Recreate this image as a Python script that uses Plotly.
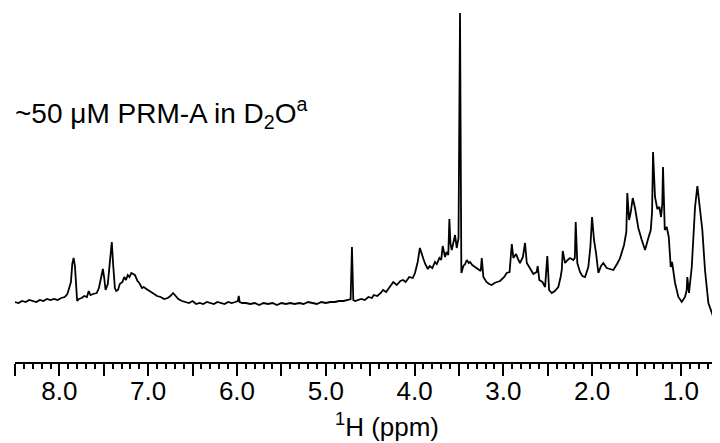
#!/usr/bin/env python3

import plotly.graph_objects as go

# chemical shift (ppm) and intensity (a.u., baseline = 0)
ppm = [
    8.50, 8.46, 8.42, 8.38, 8.34, 8.30, 8.26, 8.22, 8.18, 8.14, 8.10, 8.06, 8.02, 7.98, 7.94, 7.91,
    7.87, 7.855, 7.84, 7.825, 7.81, 7.80, 7.78, 7.75, 7.72, 7.69, 7.67, 7.65, 7.62, 7.58,
    7.555, 7.53, 7.51, 7.495, 7.48, 7.455, 7.43, 7.41, 7.395, 7.375, 7.36, 7.34, 7.32,
    7.29, 7.27, 7.25, 7.23, 7.21, 7.19, 7.17, 7.15, 7.12, 7.10, 7.07, 7.05, 7.02, 6.99, 6.95,
    6.90, 6.86, 6.82, 6.78, 6.75, 6.72, 6.69, 6.66, 6.62, 6.58, 6.54, 6.50, 6.46, 6.42, 6.38,
    6.34, 6.30, 6.26, 6.22, 6.18, 6.14, 6.10, 6.06, 6.02, 5.99, 5.98, 5.97, 5.94, 5.90, 5.85,
    5.80, 5.75, 5.70, 5.65, 5.60, 5.55, 5.50, 5.45, 5.40, 5.35, 5.30, 5.25, 5.20, 5.15, 5.10,
    5.05, 5.00, 4.95, 4.90, 4.85, 4.80, 4.75, 4.72, 4.705, 4.69, 4.67, 4.64, 4.60, 4.56, 4.52,
    4.48, 4.46, 4.42, 4.38, 4.355, 4.32, 4.28, 4.24, 4.20, 4.16, 4.13, 4.10, 4.06, 4.02, 3.995,
    3.965, 3.94, 3.92, 3.90, 3.88, 3.85, 3.83, 3.80, 3.77, 3.75, 3.72, 3.70, 3.683, 3.67, 3.657,
    3.64, 3.62, 3.608, 3.595, 3.581, 3.56, 3.544, 3.525, 3.505, 3.488, 3.473, 3.45, 3.43, 3.412,
    3.39, 3.375, 3.35, 3.319, 3.29, 3.255, 3.243, 3.225, 3.19, 3.16, 3.131, 3.10, 3.07, 3.037,
    2.99, 2.962, 2.93, 2.905, 2.887, 2.857, 2.83, 2.812, 2.78, 2.756, 2.736, 2.70, 2.662, 2.625,
    2.613, 2.595, 2.56, 2.53, 2.505, 2.485, 2.455, 2.42, 2.381, 2.355, 2.342, 2.331, 2.305,
    2.275, 2.249, 2.212, 2.195, 2.185, 2.167, 2.137, 2.11, 2.08, 2.043, 2.02, 2.001, 1.979,
    1.956, 1.93, 1.90, 1.874, 1.836, 1.80, 1.761, 1.72, 1.689, 1.641, 1.615, 1.604, 1.584,
    1.565, 1.543, 1.517, 1.48, 1.441, 1.404, 1.367, 1.34, 1.325, 1.314, 1.292, 1.266, 1.243,
    1.224, 1.21, 1.202, 1.182, 1.16, 1.137, 1.115, 1.10, 1.066, 1.029, 0.991, 0.954, 0.935,
    0.928, 0.909, 0.878, 0.841, 0.815, 0.785, 0.759, 0.729, 0.691, 0.635, 0.579, 0.56,
]
intensity = [
    0, -1, 1, 0, 2, 1, 0, 2, 1, 3, 2, 3, 2, 4, 5, 8,
    20, 38, 44, 36, 12, 1, 3, 4, 6, 5, 11, 7, 8, 9,
    14, 26, 33, 24, 12, 18, 40, 60, 38, 14, 11, 12, 18,
    20, 25, 22, 27, 25, 29, 28, 27, 21, 19, 14, 15, 13, 11, 9,
    6, 5, 3, 4, 6, 9, 6, 3, 1, 0, -1, 1, -2, -1, -2,
    0, -1, -2, 0, -1, -2, 0, -1, 0, 1, 6, 0, -1, -1, -2,
    -1, -3, -1, -2, -1, -3, -1, -2, -1, -2, -1, -2, 0, -1, -2,
    0, -1, 0, 0, 1, 1, 2, 3, 55, 2, 1, 2, 3, 2, 5,
    4, 7, 6, 9, 12, 10, 15, 20, 17, 21, 22, 20, 25, 24, 29,
    40, 54, 47, 43, 38, 33, 36, 34, 40, 38, 44, 42, 56, 48, 45,
    50, 47, 83, 58, 52, 62, 67, 54, 64, 289, 29, 36, 38, 42,
    39, 40, 37, 35, 33, 31, 44, 25, 20, 18, 17, 19, 20, 21,
    25, 29, 30, 58, 44, 48, 42, 39, 45, 59, 39, 34, 28, 30,
    36, 22, 20, 15, 46, 12, 9, 11, 15, 25, 32, 51, 39,
    42, 44, 42, 44, 80, 39, 30, 26, 25, 35, 55, 85, 62,
    49, 29, 36, 39, 34, 33, 32, 38, 43, 57, 70, 109, 82,
    90, 104, 94, 74, 62, 52, 64, 72, 90, 150, 105, 93, 95,
    85, 98, 135, 72, 75, 65, 35, 40, 19, 5, 0, 5, 12,
    25, 9, 35, 95, 116, 95, 72, 32, -1, -15, -19, -19,
]

x_ticks = [8.5, 8.0, 7.5, 7.0, 6.5, 6.0, 5.5, 5.0, 4.5, 4.0, 3.5, 3.0, 2.5, 2.0, 1.5, 1.0]
x_labels = ["", "8.0", "", "7.0", "", "6.0", "", "5.0", "", "4.0", "", "3.0", "", "2.0", "", "1.0"]

fig = go.Figure()
fig.add_trace(go.Scatter(x=ppm, y=intensity, mode="lines",
                         line=dict(color="black", width=1.8), showlegend=False))

font = "Arial, Liberation Sans, Helvetica, sans-serif"

# page body has an 8px margin, so the figure is a bit smaller than the window
fig.update_layout(
    width=712, height=435,
    margin=dict(l=7, r=0, t=2, b=81),
    plot_bgcolor="white", paper_bgcolor="white",
    font=dict(family=font, color="black", size=26),
)

fig.update_xaxes(
    range=[8.5, 0.56], showgrid=False, zeroline=False,
    showline=True, linecolor="black", linewidth=2,
    tickmode="array", tickvals=x_ticks, ticktext=x_labels,
    ticks="outside", ticklen=12, tickwidth=2, tickcolor="black",
    tickfont=dict(size=26, family=font), ticklabelstandoff=-7,
    minor=dict(tickmode="linear", tick0=0, dtick=0.1, ticks="outside",
               ticklen=5, tickwidth=1.5, tickcolor="black"),
)
fig.update_yaxes(range=[-60, 292], visible=False)

# sample label
fig.add_annotation(
    text="~50 μM PRM-A in D<sub>2</sub>O<sup>a</sup>",
    xref="paper", yref="paper", x=-0.003, y=0.708,
    xanchor="left", yanchor="middle", showarrow=False,
    font=dict(size=28, family=font),
)
# axis title
fig.add_annotation(
    text="<sup>1</sup>H (ppm)",
    xref="paper", yref="paper", x=0.528, y=-0.181,
    xanchor="center", yanchor="middle", showarrow=False,
    font=dict(size=26, family=font),
)

fig.write_html("out.html")
